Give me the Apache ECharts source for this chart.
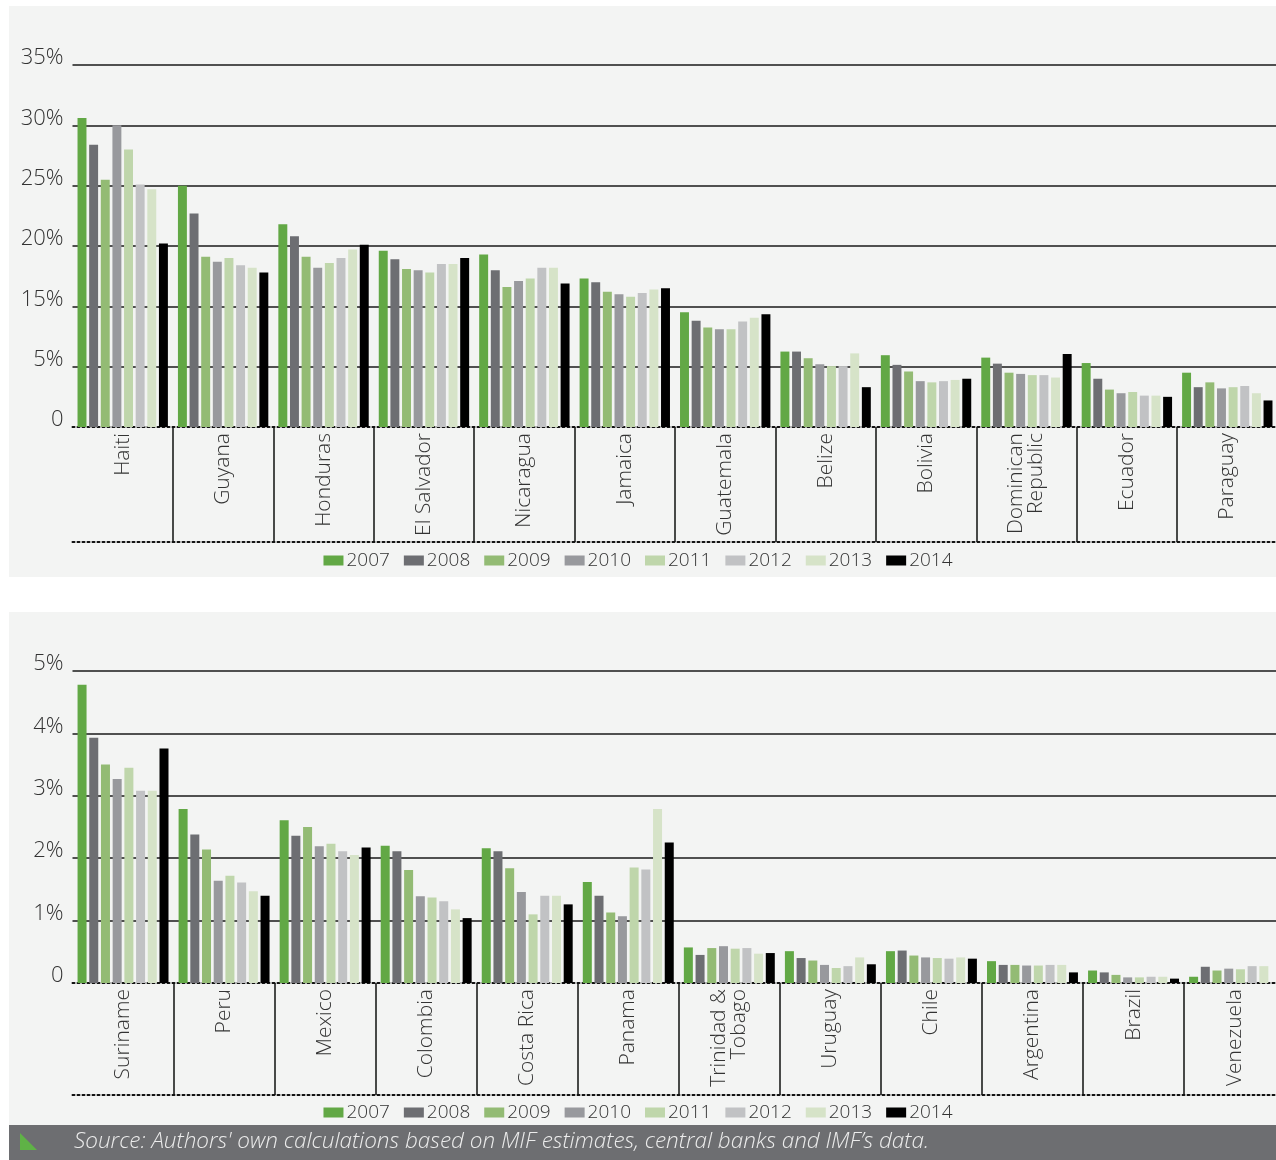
<!DOCTYPE html>
<html>
<head>
<meta charset="utf-8">
<script src="https://cdn.jsdelivr.net/npm/echarts@6/dist/echarts.min.js"></script>
<style>
  html, body { margin: 0; padding: 0; background: #ffffff; }
  #chart { width: 1276px; height: 1160px; }
</style>
</head>
<body>
<div id="chart"></div>
<script>
// Remittances as a share of GDP, 2007-2014
const years = ['2007', '2008', '2009', '2010', '2011', '2012', '2013', '2014'];
const yearColors = ['#62a845', '#6d6e72', '#93bb74', '#98999d', '#bfd6ab', '#c1c2c4', '#d6e3c8', '#000000'];

// Upper panel
const topCountries = ['Haiti', 'Guyana', 'Honduras', 'El Salvador', 'Nicaragua', 'Jamaica',
  'Guatemala', 'Belize', 'Bolivia', 'Dominican\nRepublic', 'Ecuador', 'Paraguay'];
const top2007 = [30.6, 25.0, 21.8, 19.6, 19.3, 17.3, 14.0, 7.5, 6.9, 6.5, 5.6, 4.5];
const top2008 = [28.4, 22.7, 20.8, 18.9, 18.0, 17.0, 12.6, 7.5, 5.3, 5.5, 4.0, 3.3];
const top2009 = [25.5, 19.1, 19.1, 18.1, 16.6, 16.2, 11.5, 6.4, 4.6, 4.5, 3.1, 3.7];
const top2010 = [30.0, 18.7, 18.2, 18.0, 17.1, 16.0, 11.2, 5.4, 3.8, 4.4, 2.8, 3.2];
const top2011 = [28.0, 19.0, 18.6, 17.8, 17.3, 15.8, 11.2, 5.1, 3.7, 4.3, 2.9, 3.3];
const top2012 = [25.1, 18.4, 19.0, 18.5, 18.2, 16.1, 12.5, 5.1, 3.8, 4.3, 2.6, 3.4];
const top2013 = [24.7, 18.2, 19.7, 18.5, 18.2, 16.4, 13.1, 7.2, 3.9, 4.1, 2.6, 2.8];
const top2014 = [20.2, 17.8, 20.1, 19.0, 16.9, 16.5, 13.7, 3.3, 4.0, 7.1, 2.5, 2.2];
const topTickValues = [0, 5, 15, 20, 25, 30, 35];
const topTickLabels = ['0', '5%', '15%', '20%', '25%', '30%', '35%'];

// Lower panel
const bottomCountries = ['Suriname', 'Peru', 'Mexico', 'Colombia', 'Costa Rica', 'Panama',
  'Trinidad &\nTobago', 'Uruguay', 'Chile', 'Argentina', 'Brazil', 'Venezuela'];
const bottom2007 = [4.78, 2.79, 2.61, 2.20, 2.16, 1.62, 0.57, 0.51, 0.51, 0.35, 0.20, 0.10];
const bottom2008 = [3.93, 2.38, 2.36, 2.11, 2.11, 1.40, 0.45, 0.40, 0.52, 0.29, 0.17, 0.26];
const bottom2009 = [3.50, 2.14, 2.50, 1.81, 1.84, 1.13, 0.56, 0.36, 0.44, 0.29, 0.13, 0.20];
const bottom2010 = [3.27, 1.64, 2.19, 1.39, 1.46, 1.07, 0.59, 0.29, 0.41, 0.28, 0.09, 0.23];
const bottom2011 = [3.45, 1.72, 2.23, 1.37, 1.10, 1.85, 0.55, 0.24, 0.40, 0.28, 0.09, 0.22];
const bottom2012 = [3.08, 1.61, 2.11, 1.31, 1.40, 1.82, 0.56, 0.27, 0.39, 0.29, 0.10, 0.27];
const bottom2013 = [3.08, 1.47, 2.05, 1.18, 1.40, 2.79, 0.47, 0.41, 0.41, 0.29, 0.10, 0.27];
const bottom2014 = [3.76, 1.40, 2.17, 1.04, 1.26, 2.25, 0.48, 0.30, 0.39, 0.17, 0.07, null];
const bottomTickLabels = ['0', '1%', '2%', '3%', '4%', '5%'];

const sourceText = 'Source: Authors\' own calculations based on MIF estimates, central banks and IMF\u2019s data.';

const topSeriesValues = [top2007, top2008, top2009, top2010, top2011, top2012, top2013, top2014];
const bottomSeriesValues = [bottom2007, bottom2008, bottom2009, bottom2010, bottom2011, bottom2012, bottom2013, bottom2014];

// The upper axis spaces its labelled ticks evenly, so values are placed
// piecewise-linearly between the neighbouring tick values.
function topAxisPos(v) {
  if (v == null) return null;
  for (let i = 0; i < topTickValues.length - 1; i++) {
    const a = topTickValues[i], b = topTickValues[i + 1];
    if (v <= b) return i + (v - a) / (b - a);
  }
  return topTickValues.length - 1;
}

const FONT = "'Open Sans', 'Noto Sans', sans-serif";
const TEXT = '#333333';
const PANEL_BG = '#f3f4f3';

const layout = {
  top: { left: 72.5, top: 65, width: 1205, height: 362, labelDepth: 115, legendTop: 546 },
  bottom: { left: 72.5, top: 671, width: 1212.6, height: 312, labelDepth: 112, legendTop: 1098 }
};

function categoryAxis(gridIndex, data, depth) {
  return [{
    type: 'category',
    gridIndex: gridIndex,
    data: data,
    axisLine: { show: true, lineStyle: { color: '#111', width: 2, type: [2, 3] } },
    axisTick: {
      show: true,
      length: depth,
      interval: function (index) { return index > 0; },
      lineStyle: { color: '#111', width: 1.5 }
    },
    axisLabel: {
      interval: 0,
      rotate: 90,
      margin: 6,
      fontFamily: FONT,
      fontWeight: 300,
      fontSize: 21,
      lineHeight: 20,
      color: TEXT
    },
    splitLine: { show: false }
  }, {
    type: 'category',
    gridIndex: gridIndex,
    data: data,
    position: 'bottom',
    offset: depth,
    axisLine: { show: true, lineStyle: { color: '#111', width: 2, type: [2, 3] } },
    axisTick: { show: false },
    axisLabel: { show: false },
    splitLine: { show: false }
  }];
}

function valueAxis(gridIndex, max, labels) {
  return {
    type: 'value',
    gridIndex: gridIndex,
    min: 0,
    max: max,
    interval: 1,
    axisLine: { show: false },
    axisTick: { show: false },
    axisLabel: {
      margin: 9,
      fontFamily: FONT,
      fontWeight: 300,
      fontSize: 22,
      lineHeight: 14,
      verticalAlign: 'bottom',
      color: TEXT,
      formatter: function (v) { return labels[Math.round(v)]; }
    },
    splitLine: { show: true, showMinLine: false, lineStyle: { color: '#1a1a1a', width: 1.5 } }
  };
}

const series = [];
years.forEach(function (y, i) {
  series.push({
    name: y,
    type: 'bar',
    xAxisIndex: 0,
    yAxisIndex: 0,
    barGap: '30%',
    barCategoryGap: '10%',
    itemStyle: { color: yearColors[i] },
    data: topSeriesValues[i].map(topAxisPos)
  });
});
years.forEach(function (y, i) {
  series.push({
    name: y,
    type: 'bar',
    xAxisIndex: 2,
    yAxisIndex: 1,
    barGap: '30%',
    barCategoryGap: '10%',
    itemStyle: { color: yearColors[i] },
    data: bottomSeriesValues[i]
  });
});

function legend(top) {
  return {
    data: years,
    top: top,
    left: 'center',
    itemWidth: 20,
    itemHeight: 10,
    itemGap: 14,
    icon: 'rect',
    textStyle: { fontFamily: FONT, fontWeight: 300, fontSize: 19, color: TEXT, padding: [0, 0, 0, -2] },
    selectedMode: false
  };
}

function gridBox(g) {
  return { left: g.left, top: g.top, width: g.width, height: g.height, outerBoundsMode: 'none', containLabel: false };
}

const chart = echarts.init(document.getElementById('chart'), null, { renderer: 'canvas' });
chart.setOption({
  animation: false,
  backgroundColor: '#ffffff',
  graphic: [
    { type: 'rect', z: -10, silent: true, shape: { x: 9, y: 6, width: 1267, height: 571 }, style: { fill: PANEL_BG } },
    { type: 'rect', z: -10, silent: true, shape: { x: 9, y: 612, width: 1267, height: 513 }, style: { fill: PANEL_BG } },
    { type: 'rect', z: -10, silent: true, shape: { x: 9, y: 1125, width: 1267, height: 35 }, style: { fill: '#6d6e71' } },
    { type: 'polygon', z: 5, silent: true, shape: { points: [[20, 1133], [20, 1150], [37, 1150]] }, style: { fill: '#5fb246' } }
  ],
  title: {
    text: sourceText,
    left: 74,
    top: 1130,
    padding: 0,
    textStyle: { fontFamily: FONT, fontWeight: 300, fontStyle: 'italic', fontSize: 22.5, color: '#ececec' }
  },
  legend: [legend(layout.top.legendTop), legend(layout.bottom.legendTop)],
  grid: [gridBox(layout.top), gridBox(layout.bottom)],
  xAxis: categoryAxis(0, topCountries, layout.top.labelDepth).concat(categoryAxis(1, bottomCountries, layout.bottom.labelDepth)),
  yAxis: [
    valueAxis(0, topTickValues.length - 1, topTickLabels),
    valueAxis(1, bottomTickLabels.length - 1, bottomTickLabels)
  ],
  series: series
});
</script>
</body>
</html>
